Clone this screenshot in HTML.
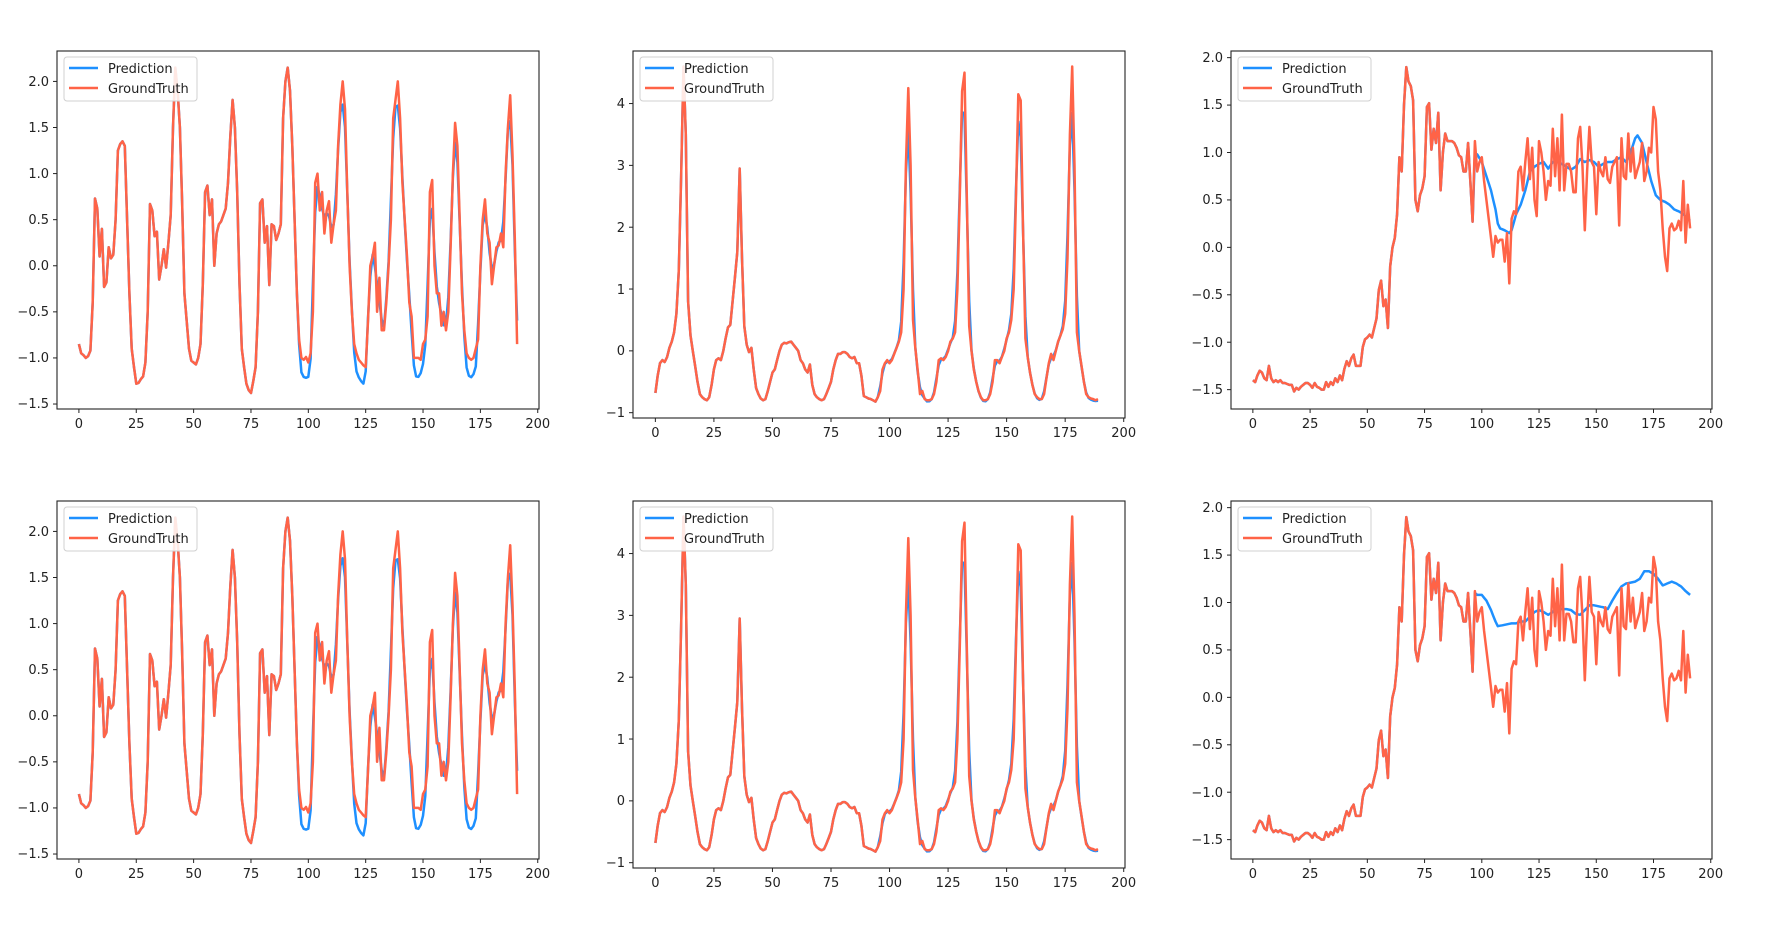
<!DOCTYPE html>
<html><head><meta charset="utf-8">
<style>
html,body{margin:0;padding:0;background:#fff;}
svg{display:block;font-family:"DejaVu Sans","Liberation Sans",sans-serif;font-size:13px;fill:#222;}
.ax{fill:none;stroke:#222;stroke-width:1.1;}
.lg{fill:#fff;fill-opacity:0.85;stroke:#d0d0d0;stroke-width:1;}
.yl{text-anchor:end;}
.xl{text-anchor:middle;}
</style></head><body>
<svg id="fig" width="1766" height="930" viewBox="0 0 1766 930" xmlns="http://www.w3.org/2000/svg">
<defs>
<clipPath id="c1"><rect x="0" y="0" width="482" height="358"/></clipPath>
<clipPath id="c2"><rect x="0" y="0" width="492" height="367"/></clipPath>
<clipPath id="c3"><rect x="0" y="0" width="481" height="358"/></clipPath>
</defs>

<!-- Axes 1 row1 -->
<g id="a11" transform="translate(57,51)">
<g class="ser" clip-path="url(#c1)"></g>
<rect class="ax" x="0" y="0" width="482" height="358"/>
<g class="tk"></g>
<text class="yl" x="-8" y="35">2.0</text><text class="yl" x="-8" y="81">1.5</text><text class="yl" x="-8" y="127">1.0</text><text class="yl" x="-8" y="173">0.5</text><text class="yl" x="-8" y="219">0.0</text><text class="yl" x="-8" y="265">−0.5</text><text class="yl" x="-8" y="311">−1.0</text><text class="yl" x="-8" y="357">−1.5</text>
<text class="xl" x="21.9" y="377">0</text><text class="xl" x="79.3" y="377">25</text><text class="xl" x="136.6" y="377">50</text><text class="xl" x="194" y="377">75</text><text class="xl" x="251.4" y="377">100</text><text class="xl" x="308.7" y="377">125</text><text class="xl" x="366.1" y="377">150</text><text class="xl" x="423.4" y="377">175</text><text class="xl" x="480.8" y="377">200</text>
<rect class="lg" x="7" y="6" width="133" height="44" rx="3"/>
<line x1="12" y1="17" x2="41" y2="17" stroke="#1e90ff" stroke-width="2.5"/><line x1="12" y1="37" x2="41" y2="37" stroke="#ff6347" stroke-width="2.5"/>
<text x="51" y="22">Prediction</text><text x="51" y="42">GroundTruth</text>
</g>

<!-- Axes 2 row1 -->
<g id="a12" transform="translate(633,51)">
<g class="ser" clip-path="url(#c2)"></g>
<rect class="ax" x="0" y="0" width="492" height="367"/>
<g class="tk"></g>
<text class="yl" x="-8" y="57">4</text><text class="yl" x="-8" y="119">3</text><text class="yl" x="-8" y="181">2</text><text class="yl" x="-8" y="243">1</text><text class="yl" x="-8" y="304">0</text><text class="yl" x="-8" y="366">−1</text>
<text class="xl" x="22.4" y="386">0</text><text class="xl" x="80.9" y="386">25</text><text class="xl" x="139.5" y="386">50</text><text class="xl" x="198" y="386">75</text><text class="xl" x="256.6" y="386">100</text><text class="xl" x="315.1" y="386">125</text><text class="xl" x="373.6" y="386">150</text><text class="xl" x="432.2" y="386">175</text><text class="xl" x="490.7" y="386">200</text>
<rect class="lg" x="7" y="6" width="133" height="44" rx="3"/>
<line x1="12" y1="17" x2="41" y2="17" stroke="#1e90ff" stroke-width="2.5"/><line x1="12" y1="37" x2="41" y2="37" stroke="#ff6347" stroke-width="2.5"/>
<text x="51" y="22">Prediction</text><text x="51" y="42">GroundTruth</text>
</g>

<!-- Axes 3 row1 -->
<g id="a13" transform="translate(1231,51)">
<g class="ser" clip-path="url(#c3)"></g>
<rect class="ax" x="0" y="0" width="481" height="358"/>
<g class="tk"></g>
<text class="yl" x="-8" y="11">2.0</text><text class="yl" x="-8" y="58">1.5</text><text class="yl" x="-8" y="106">1.0</text><text class="yl" x="-8" y="153">0.5</text><text class="yl" x="-8" y="201">0.0</text><text class="yl" x="-8" y="248">−0.5</text><text class="yl" x="-8" y="296">−1.0</text><text class="yl" x="-8" y="343">−1.5</text>
<text class="xl" x="21.9" y="377">0</text><text class="xl" x="79.1" y="377">25</text><text class="xl" x="136.3" y="377">50</text><text class="xl" x="193.6" y="377">75</text><text class="xl" x="250.8" y="377">100</text><text class="xl" x="308" y="377">125</text><text class="xl" x="365.3" y="377">150</text><text class="xl" x="422.5" y="377">175</text><text class="xl" x="479.7" y="377">200</text>
<rect class="lg" x="7" y="6" width="133" height="44" rx="3"/>
<line x1="12" y1="17" x2="41" y2="17" stroke="#1e90ff" stroke-width="2.5"/><line x1="12" y1="37" x2="41" y2="37" stroke="#ff6347" stroke-width="2.5"/>
<text x="51" y="22">Prediction</text><text x="51" y="42">GroundTruth</text>
</g>

<!-- Row 2 -->
<g id="a21" transform="translate(57,501)">
<g class="ser" clip-path="url(#c1)"></g>
<rect class="ax" x="0" y="0" width="482" height="358"/>
<g class="tk"></g>
<text class="yl" x="-8" y="35">2.0</text><text class="yl" x="-8" y="81">1.5</text><text class="yl" x="-8" y="127">1.0</text><text class="yl" x="-8" y="173">0.5</text><text class="yl" x="-8" y="219">0.0</text><text class="yl" x="-8" y="265">−0.5</text><text class="yl" x="-8" y="311">−1.0</text><text class="yl" x="-8" y="357">−1.5</text>
<text class="xl" x="21.9" y="377">0</text><text class="xl" x="79.3" y="377">25</text><text class="xl" x="136.6" y="377">50</text><text class="xl" x="194" y="377">75</text><text class="xl" x="251.4" y="377">100</text><text class="xl" x="308.7" y="377">125</text><text class="xl" x="366.1" y="377">150</text><text class="xl" x="423.4" y="377">175</text><text class="xl" x="480.8" y="377">200</text>
<rect class="lg" x="7" y="6" width="133" height="44" rx="3"/>
<line x1="12" y1="17" x2="41" y2="17" stroke="#1e90ff" stroke-width="2.5"/><line x1="12" y1="37" x2="41" y2="37" stroke="#ff6347" stroke-width="2.5"/>
<text x="51" y="22">Prediction</text><text x="51" y="42">GroundTruth</text>
</g>

<g id="a22" transform="translate(633,501)">
<g class="ser" clip-path="url(#c2)"></g>
<rect class="ax" x="0" y="0" width="492" height="367"/>
<g class="tk"></g>
<text class="yl" x="-8" y="57">4</text><text class="yl" x="-8" y="119">3</text><text class="yl" x="-8" y="181">2</text><text class="yl" x="-8" y="243">1</text><text class="yl" x="-8" y="304">0</text><text class="yl" x="-8" y="366">−1</text>
<text class="xl" x="22.4" y="386">0</text><text class="xl" x="80.9" y="386">25</text><text class="xl" x="139.5" y="386">50</text><text class="xl" x="198" y="386">75</text><text class="xl" x="256.6" y="386">100</text><text class="xl" x="315.1" y="386">125</text><text class="xl" x="373.6" y="386">150</text><text class="xl" x="432.2" y="386">175</text><text class="xl" x="490.7" y="386">200</text>
<rect class="lg" x="7" y="6" width="133" height="44" rx="3"/>
<line x1="12" y1="17" x2="41" y2="17" stroke="#1e90ff" stroke-width="2.5"/><line x1="12" y1="37" x2="41" y2="37" stroke="#ff6347" stroke-width="2.5"/>
<text x="51" y="22">Prediction</text><text x="51" y="42">GroundTruth</text>
</g>

<g id="a23" transform="translate(1231,501)">
<g class="ser" clip-path="url(#c3)"></g>
<rect class="ax" x="0" y="0" width="481" height="358"/>
<g class="tk"></g>
<text class="yl" x="-8" y="11">2.0</text><text class="yl" x="-8" y="58">1.5</text><text class="yl" x="-8" y="106">1.0</text><text class="yl" x="-8" y="153">0.5</text><text class="yl" x="-8" y="201">0.0</text><text class="yl" x="-8" y="248">−0.5</text><text class="yl" x="-8" y="296">−1.0</text><text class="yl" x="-8" y="343">−1.5</text>
<text class="xl" x="21.9" y="377">0</text><text class="xl" x="79.1" y="377">25</text><text class="xl" x="136.3" y="377">50</text><text class="xl" x="193.6" y="377">75</text><text class="xl" x="250.8" y="377">100</text><text class="xl" x="308" y="377">125</text><text class="xl" x="365.3" y="377">150</text><text class="xl" x="422.5" y="377">175</text><text class="xl" x="479.7" y="377">200</text>
<rect class="lg" x="7" y="6" width="133" height="44" rx="3"/>
<line x1="12" y1="17" x2="41" y2="17" stroke="#1e90ff" stroke-width="2.5"/><line x1="12" y1="37" x2="41" y2="37" stroke="#ff6347" stroke-width="2.5"/>
<text x="51" y="22">Prediction</text><text x="51" y="42">GroundTruth</text>
</g>
</svg>

<script>
(function(){
var NS="http://www.w3.org/2000/svg";
function dense(arr){
  // arr: numbers (x=index) or [x,y] pairs
  var pts=[];
  if(typeof arr[0]==="number"){for(var i=0;i<arr.length;i++)pts.push([i,arr[i]]);}
  else pts=arr;
  var out=[];
  var lo=Math.ceil(pts[0][0]), hi=Math.floor(pts[pts.length-1][0]);
  var k=0;
  for(var x=lo;x<=hi;x++){
    while(k<pts.length-2 && pts[k+1][0]<x)k++;
    var a=pts[k],b=pts[k+1]||a;
    var t=(b[0]===a[0])?0:(x-a[0])/(b[0]-a[0]);
    out.push([x,a[1]+(b[1]-a[1])*t]);
  }
  return out;
}
var G1=[-0.85,-0.95,-0.97,-1.0,-0.98,-0.92,-0.4,0.73,0.62,0.1,0.4,-0.23,-0.18,0.2,0.08,0.12,0.5,1.25,1.32,1.35,1.3,0.5,-0.3,-0.9,-1.1,-1.28,-1.27,-1.23,-1.2,-1.05,-0.5,0.67,0.6,0.32,0.37,-0.15,0.0,0.18,-0.02,0.25,0.55,1.5,2.15,1.9,1.5,0.7,-0.3,-0.6,-0.9,-1.03,-1.05,-1.07,-1.0,-0.85,-0.2,0.8,0.87,0.55,0.72,0.0,0.35,0.45,0.48,0.55,0.62,0.9,1.4,1.8,1.5,0.8,-0.2,-0.9,-1.1,-1.28,-1.35,-1.38,-1.25,-1.1,-0.5,0.68,0.72,0.25,0.43,-0.21,0.45,0.43,0.28,0.35,0.45,1.6,2.0,2.15,1.9,1.3,0.5,-0.3,-0.8,-1.0,-1.02,-0.99,-1.05,-0.95,-0.5,0.9,1.0,0.6,0.8,0.35,0.6,0.7,0.25,0.45,0.6,1.3,1.75,2.0,1.7,0.8,0.0,-0.5,-0.85,-0.95,-1.02,-1.05,-1.08,-1.1,-0.6,0.0,0.1,0.25,-0.5,-0.13,-0.7,-0.7,-0.4,0.0,0.5,1.6,1.8,2.0,1.6,0.9,0.5,0.1,-0.4,-0.55,-1.0,-1.0,-1.0,-1.02,-0.85,-0.8,-0.55,0.8,0.93,0.0,-0.3,-0.3,-0.65,-0.5,-0.7,-0.5,0.2,1.0,1.55,1.3,0.5,-0.3,-0.7,-0.95,-1.0,-1.02,-1.0,-0.9,-0.8,0.0,0.5,0.72,0.35,0.25,-0.2,0.0,0.2,0.22,0.35,0.2,1.0,1.5,1.85,1.2,0.3,-0.85];
function predFrom(G,start,deep,cap){
  var P=[];
  for(var i=start;i<G.length;i++){
    var a=G[Math.max(0,i-1)],b=G[i],c=G[Math.min(G.length-1,i+1)];
    var s=0.25*a+0.45*b+0.3*c;
    if(s<-0.5)s-=deep*Math.min(1,(-0.5-s)/0.4);
    if(s>cap)s=cap+(s-cap)*0.6;
    P.push([i,s]);
  }
  return P;
}
var G2=[-0.68,-0.4,-0.2,-0.15,-0.18,-0.1,0.05,0.15,0.3,0.6,1.3,2.8,4.6,3.5,0.8,0.25,0.0,-0.25,-0.5,-0.7,-0.75,-0.78,-0.8,-0.75,-0.55,-0.3,-0.15,-0.12,-0.15,0.0,0.2,0.38,0.42,0.8,1.2,1.6,2.95,1.5,0.4,0.1,-0.02,0.05,-0.3,-0.6,-0.7,-0.77,-0.8,-0.78,-0.65,-0.5,-0.35,-0.3,-0.15,0.0,0.1,0.13,0.12,0.14,0.15,0.1,0.05,0.0,-0.15,-0.2,-0.3,-0.35,-0.22,-0.55,-0.7,-0.75,-0.78,-0.8,-0.78,-0.7,-0.6,-0.5,-0.3,-0.15,-0.05,-0.05,-0.02,-0.02,-0.05,-0.1,-0.12,-0.1,-0.2,-0.2,-0.4,-0.73,-0.75,-0.77,-0.78,-0.8,-0.82,-0.75,-0.65,-0.3,-0.2,-0.15,-0.2,-0.15,-0.05,0.05,0.15,0.3,1.0,3.0,4.25,3.0,0.5,0.05,-0.3,-0.7,-0.65,-0.78,-0.8,-0.8,-0.78,-0.7,-0.5,-0.15,-0.12,-0.15,-0.1,0.0,0.15,0.2,0.3,1.0,2.5,4.2,4.5,2.5,0.4,0.0,-0.3,-0.5,-0.65,-0.75,-0.8,-0.8,-0.78,-0.7,-0.5,-0.15,-0.15,-0.2,-0.1,0.0,0.2,0.3,0.5,1.0,2.5,4.15,4.05,2.0,0.2,-0.1,-0.35,-0.55,-0.7,-0.75,-0.78,-0.78,-0.7,-0.45,-0.2,-0.05,-0.15,0.0,0.15,0.25,0.35,0.6,1.5,3.5,4.6,3.0,0.3,0.0,-0.25,-0.5,-0.7,-0.75,-0.77,-0.78,-0.8,-0.78];
var G3a=[-1.4,-1.42,-1.35,-1.3,-1.32,-1.38,-1.4,-1.25,-1.38,-1.42,-1.4,-1.42,-1.4,-1.43,-1.43,-1.44,-1.45,-1.45,-1.52,-1.48,-1.5,-1.47,-1.45,-1.43,-1.43,-1.45,-1.48,-1.43,-1.47,-1.48,-1.5,-1.5,-1.42,-1.47,-1.42,-1.45,-1.38,-1.42,-1.35,-1.4,-1.28,-1.2,-1.25,-1.17,-1.13,-1.25,-1.25,-1.25,-1.05,-0.97,-0.95,-0.92,-0.95,-0.85,-0.75,-0.45,-0.35,-0.62,-0.55,-0.85,-0.2,0.0,0.1,0.35,0.95,0.8,1.5,1.9,1.75,1.7,1.55,0.5,0.38,0.55,0.62,0.75,1.48,1.52,1.03,1.25,1.1,1.42,0.6,1.0,1.2,1.12,1.12,1.12,1.1,1.05,0.97,0.95,0.8,0.8,1.1];
var G3b=[[95,1.38],[96,0.27],[97,1.12],[98,0.8],[99,0.9],[100,0.95],[101,0.7],[102,0.5],[103,0.3],[104,0.1],[105,-0.1],[106,0.12],[107,0.05],[108,0.08],[109,0.08],[110,-0.15],[111,0.15],[112,-0.38],[113,0.3],[114,0.38],[115,0.35],[116,0.8],[117,0.85],[118,0.6],[119,0.9],[120,1.15],[121,0.72],[122,1.05],[123,0.5],[124,0.33],[125,1.12],[126,1.0],[127,0.8],[128,0.5],[129,0.7],[130,0.65],[131,1.25],[132,0.75],[133,1.15],[134,0.6],[135,1.4],[136,0.6],[137,0.88],[138,0.88],[139,0.8],[140,0.58],[141,0.58],[142,1.15],[143,1.27],[144,0.85],[145,0.18],[146,0.8],[147,1.27],[148,0.9],[149,0.85],[150,0.35],[151,0.9],[152,0.8],[153,0.75],[154,0.95],[155,0.72],[156,0.68],[157,0.85],[158,0.9],[159,0.95],[160,0.23],[161,1.15],[162,0.75],[163,0.72],[164,1.2],[165,0.8],[166,1.05],[167,0.73],[168,0.82],[169,0.9],[170,1.1],[171,0.7],[172,0.8],[173,1.05],[174,1.0],[175,1.48],[176,1.35],[177,0.8],[178,0.6],[179,0.2],[180,-0.1],[181,-0.25],[182,0.2],[183,0.25],[184,0.18],[185,0.2],[186,0.28],[187,0.18],[188,0.7],[189,0.05],[190,0.45],[191,0.2]];
var G3=[];for(var i=0;i<G3a.length;i++)G3.push([i,G3a[i]]);G3=G3.concat(G3b.slice(1));
var P3a=[[95,1.38],[96,1.0],[98,0.98],[100,0.9],[102,0.75],[104,0.6],[106,0.4],[107,0.25],[108,0.2],[110,0.18],[112,0.15],[113,0.18],[115,0.35],[117,0.45],[119,0.6],[121,0.8],[123,0.85],[125,0.88],[127,0.9],[129,0.83],[131,0.9],[133,0.9],[135,0.88],[137,0.85],[139,0.82],[141,0.85],[143,0.93],[145,0.9],[147,0.92],[149,0.9],[151,0.85],[153,0.88],[155,0.9],[157,0.9],[159,0.93],[161,0.95],[163,0.9],[165,1.0],[167,1.15],[168,1.18],[170,1.1],[172,0.9],[174,0.7],[176,0.55],[178,0.5],[180,0.48],[182,0.45],[184,0.4],[186,0.38],[188,0.35],[190,0.3],[191,0.28]];
var P3b=[[95,1.38],[96,1.3],[97,1.1],[98,1.08],[100,1.08],[102,1.02],[104,0.92],[106,0.8],[107,0.75],[109,0.76],[111,0.77],[113,0.78],[115,0.78],[117,0.8],[119,0.8],[121,0.85],[123,0.9],[125,0.92],[127,0.9],[129,0.87],[131,0.9],[133,0.95],[135,0.93],[137,0.93],[139,0.92],[141,0.88],[143,0.87],[145,0.92],[147,0.97],[149,0.97],[151,0.96],[153,0.95],[155,0.93],[157,1.02],[159,1.1],[161,1.17],[163,1.2],[165,1.21],[167,1.22],[169,1.25],[171,1.33],[173,1.33],[175,1.3],[177,1.25],[179,1.18],[181,1.2],[183,1.22],[185,1.2],[187,1.17],[189,1.12],[191,1.08]];

var cfg={
 a11:{W:482,H:358,y0:2.33,y1:-1.554,yt:[2,1.5,1,0.5,0,-0.5,-1,-1.5],G:G1,P:predFrom(G1,95,0.2,1.6)},
 a21:{W:482,H:358,y0:2.33,y1:-1.554,yt:[2,1.5,1,0.5,0,-0.5,-1,-1.5],G:G1,P:predFrom(G1,95,0.22,1.5)},
 a12:{W:492,H:367,y0:4.85,y1:-1.086,yt:[4,3,2,1,0,-1],G:G2,P:predFrom(G2,95,0.03,4.3)},
 a22:{W:492,H:367,y0:4.85,y1:-1.086,yt:[4,3,2,1,0,-1],G:G2,P:predFrom(G2,95,0.03,4.4)},
 a13:{W:481,H:358,y0:2.07,y1:-1.704,yt:[2,1.5,1,0.5,0,-0.5,-1,-1.5],G:G3,P:P3a},
 a23:{W:481,H:358,y0:2.07,y1:-1.704,yt:[2,1.5,1,0.5,0,-0.5,-1,-1.5],G:G3,P:P3b}
};
for(var id in cfg){
 var c=cfg[id],g=document.getElementById(id);
 var ser=g.querySelector(".ser"),tk=g.querySelector(".tk");
 var sx=function(v){return (v+9.55)/210.1*c.W;};
 var sy=function(v){return (c.y0-v)/(c.y0-c.y1)*c.H;};
 function poly(data,col){
   var d=dense(data),s="";
   for(var j=0;j<d.length;j++)s+=sx(d[j][0]).toFixed(1)+","+sy(d[j][1]).toFixed(1)+" ";
   var p=document.createElementNS(NS,"polyline");
   p.setAttribute("points",s);p.setAttribute("fill","none");p.setAttribute("stroke",col);
   p.setAttribute("stroke-width","2.5");p.setAttribute("stroke-linejoin","round");
   ser.appendChild(p);
 }
 var Pfull=[];for(var j=0;j<96;j++){Pfull.push(typeof c.G[0]==="number"?[j,c.G[j]]:c.G[j]);}
 poly(Pfull.concat(c.P.filter(function(q){return q[0]>95;})),"#1e90ff");
 poly(c.G,"#ff6347");
 for(var v=0;v<=200;v+=25){var l=document.createElementNS(NS,"line");var x=sx(v);
   l.setAttribute("x1",x);l.setAttribute("x2",x);l.setAttribute("y1",c.H);l.setAttribute("y2",c.H+4);
   l.setAttribute("stroke","#222");tk.appendChild(l);}
 c.yt.forEach(function(v){var l=document.createElementNS(NS,"line");var y=sy(v);
   l.setAttribute("x1",-4);l.setAttribute("x2",0);l.setAttribute("y1",y);l.setAttribute("y2",y);
   l.setAttribute("stroke","#222");tk.appendChild(l);});
}
})();
</script>
</body></html>
